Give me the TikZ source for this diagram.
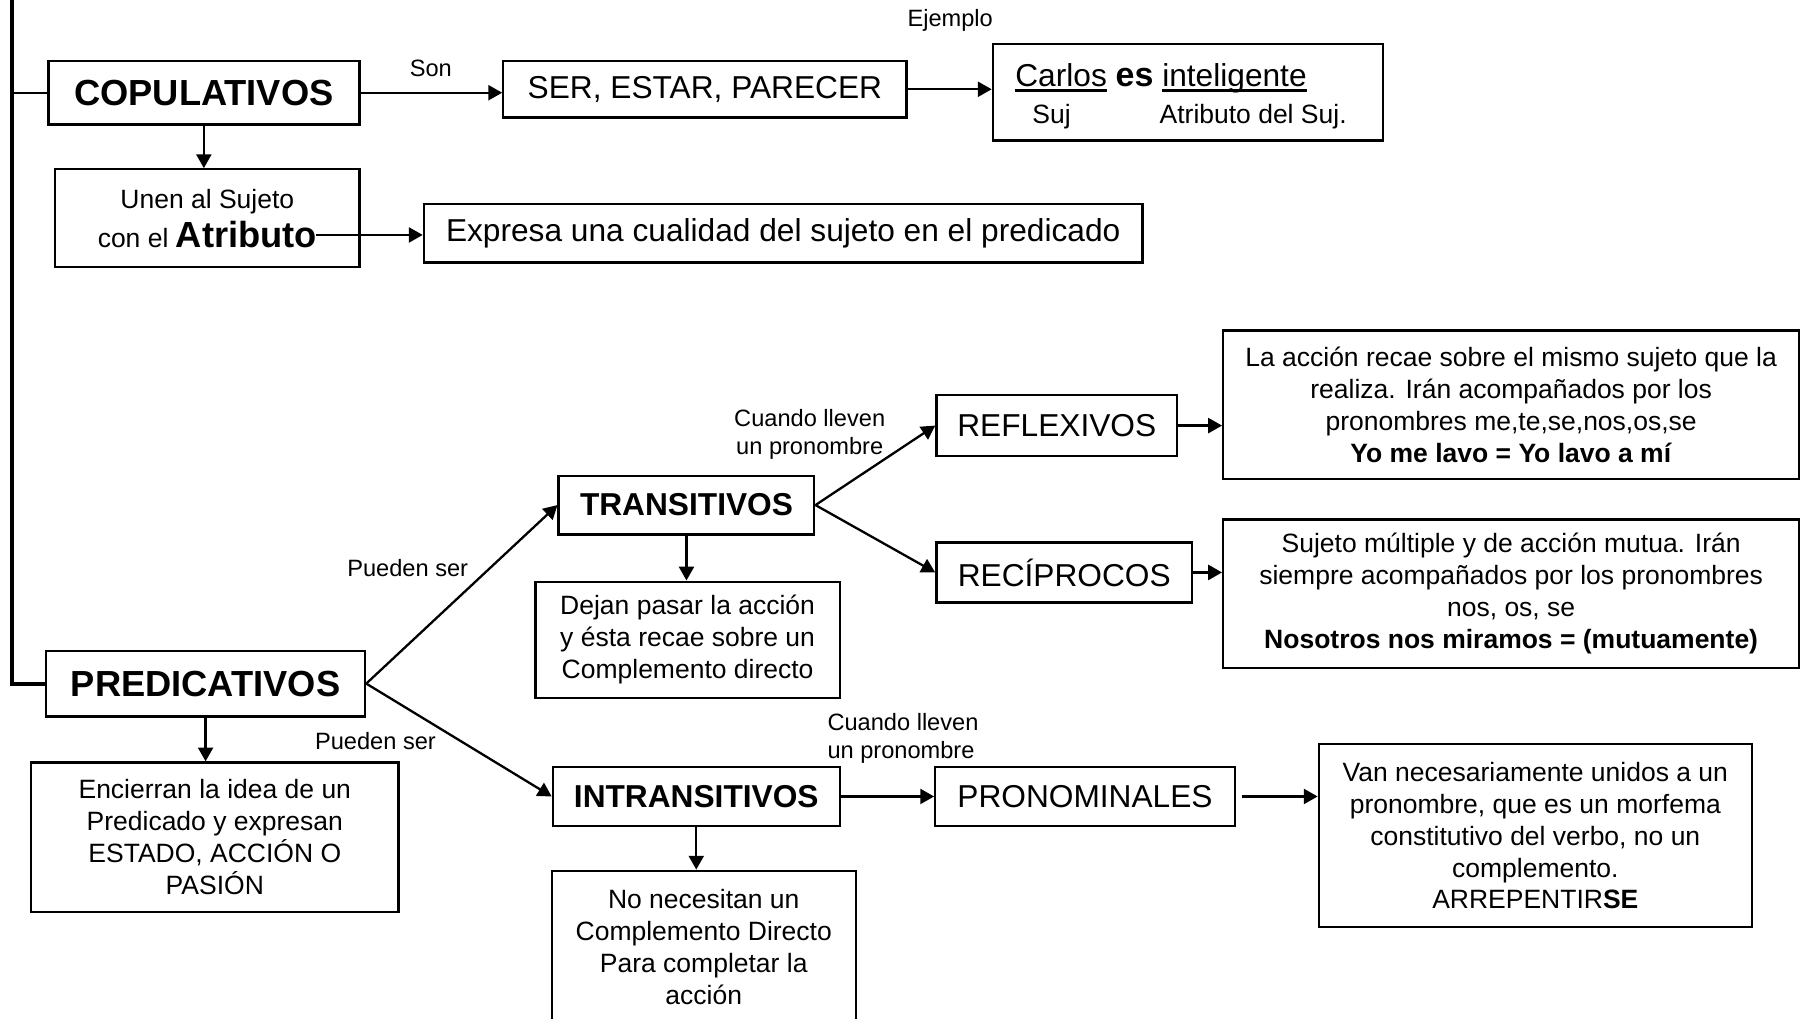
\documentclass[tikz,border=0pt]{standalone}
\usepackage{fontspec}
\setmainfont{Liberation Sans}
\usetikzlibrary{positioning}
\usetikzlibrary{arrows.meta}
\newcommand{\subr}[1]{\setbox0\hbox{#1}\rlap{\rule[-5pt]{\wd0}{2.6pt}}\box0}
\def\thickness{2pt}
\tikzset{
caja/.style 2 args={draw, line width=2pt, inner sep=0pt, align=center, minimum width=#1pt, minimum height=#2pt},
flecha/.style={-{Triangle[length=12pt,width=13pt]}, line width=\thickness},
grande/.style={font=\fontsize{31.5}{36}\selectfont\bfseries},
medio/.style={font=\fontsize{27.5}{33}\selectfont},
mediob/.style={font=\fontsize{27.5}{33}\selectfont\bfseries},
texto/.style={font=\fontsize{23}{27.7}\selectfont},
etiqueta/.style={font=\fontsize{20.5}{24.5}\selectfont, align=center},
}
\begin{document}
\begin{tikzpicture}[x=1pt, y=-1pt]
\useasboundingbox (0,0) rectangle (1568,884);
\clip (0,0) rectangle (1568,884);
%Place the nodes
\node[caja={270}{55}, grande] (cop) at (177,80.5) {COPULATIVOS};
\node[caja={350}{49}, medio] (ser) at (612,77.5) {SER, ESTAR, PARECER};
\node[caja={339}{84}] (ej) at (1031.5,80) {};
\node[medio] (ejt) at (1008,68) {\subr{Carlos}\ {\fontsize{29.5}{33}\selectfont\bfseries es}\ \subr{inteligente}};
\node[texto] (suj) at (913,101) {Suj};
\node[texto] (atrs) at (1088,101) {Atributo del Suj.};
\node[caja={264}{85}, texto] (unen) at (180,189.5) {Unen al Sujeto\\[6pt] con el {\fontsize{31.5}{36}\selectfont\bfseries Atributo}};
\node[caja={624}{51}, medio] (expr) at (680,202.5) {Expresa una cualidad del sujeto en el predicado};

\node[caja={277}{57}, grande] (pred) at (178.5,593.5) {PREDICATIVOS};
\node[caja={319}{130}, texto] (enc) at (186.5,727) {Encierran la idea de un\\Predicado y expresan\\ESTADO, ACCIÓN O\\PASIÓN};
\node[caja={222}{51}, mediob] (tr) at (596,438.5) {TRANSITIVOS};
\node[caja={264}{101}, texto] (dej) at (597,555.5) {Dejan pasar la acción\\y ésta recae sobre un\\Complemento directo};
\node[caja={209}{53}, medio] (refl) at (917.5,369.5) {REFLEXIVOS};
\node[caja={222}{52}, medio] (rec) at (924,497) {RECÍPROCOS};
\node[caja={500}{129}, texto] (lacc) at (1312,351.5) {La acción recae sobre el mismo sujeto que la\\realiza. Irán acompañados por los\\pronombres me,te,se,nos,os,se\\\textbf{Yo me lavo = Yo lavo a mí}};
\node[caja={500}{129}, texto] (mut) at (1312,515.5) {Sujeto múltiple y de acción mutua. Irán\\siempre acompañados por los pronombres\\nos, os, se\\\textbf{Nosotros nos miramos = (mutuamente)}};
\node[caja={249}{51}, mediob] (intr) at (604.5,691.5) {INTRANSITIVOS};
\node[caja={264}{132}, texto] (nonec) at (611,822) {No necesitan un\\Complemento Directo\\Para completar la\\acción};
\node[caja={260}{51}, medio] (pron) at (942,691.5) {PRONOMINALES};
\node[caja={376}{159}, texto] (van) at (1333,725.5) {Van necesariamente unidos a un\\pronombre, que es un morfema\\constitutivo del verbo, no un\\complemento.\\ARREPENTIR\textbf{SE}};

%labels
\node[etiqueta] (son) at (374,59) {Son};
\node[etiqueta] (ejem) at (825,18) {Ejemplo};
\node[etiqueta] (pue1) at (354,493) {Pueden ser};
\node[etiqueta] (pue2) at (326,643) {Pueden ser};
\node[etiqueta] (cua1) at (703,377) {Cuando lleven\\un pronombre};
\node[etiqueta, align=left] (cua2) at (784,641) {Cuando lleven\\un pronombre};

%
\coordinate (top) at (10,-5);
\draw[line width=3.5pt] (top) |- (pred.west);
\draw[line width=2pt] (top |- cop.west) -- (cop.west);

%
\draw[flecha] (cop.east) -- (cop.east -| ser.west);
\draw[flecha] (ser.east) -- (ser.east -| ej.west);
\draw[flecha] (cop.south) -- (cop.south |- unen.north);
\coordinate (atr) at (274,204);
\draw[flecha] (atr) -- (atr -| expr.west);

%
\draw[flecha] (pred.east) -- (tr.west);
\draw[flecha] (pred.east) -- (intr.west);
\draw[flecha] (pred.south) -- (pred.south |- enc.north);

%
\draw[flecha] (tr.east) -- (refl.west);
\draw[flecha] (tr.east) -- (rec.west);
\draw[flecha] (tr.south) -- (tr.south |- dej.north);
\draw[flecha] (refl.east) -- (refl.east -| lacc.west);
\draw[flecha] (rec.east) -- (rec.east -| mut.west);

%
\draw[flecha] (intr.east) -- (pron.west);
\draw[flecha] ([xshift=5pt]pron.east) -- (pron.east -| van.west);
\draw[flecha] (intr.south) -- (intr.south |- nonec.north);

\end{tikzpicture}
\end{document}
